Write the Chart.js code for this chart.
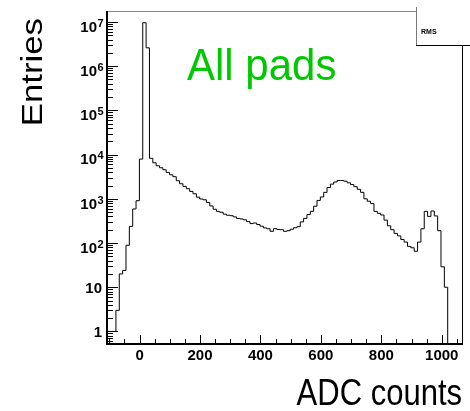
<!DOCTYPE html>
<html>
<head>
<meta charset="utf-8">
<script src="https://cdn.jsdelivr.net/npm/chart.js@4.4.1/dist/chart.umd.min.js"></script>
<style>
  html, body { margin: 0; padding: 0; background: #fff; }
  canvas { display: block; }
</style>
</head>
<body>
<canvas id="adcChart" width="470" height="411"></canvas>
<script>
// ADC spectrum, all pads (ROOT style histogram, log y)
const binStart = -111.5;   // left edge of first bin, ADC counts
const binWidth = 11.09;
const counts = [
  1, 1, 1, 3, 20, 24, 89, 238, 589, 906,
  7900, 9.6e6, 2.6e6, 8250, 6530, 5590, 5040, 4540, 3950, 3500,
  3160, 2560, 2190, 1910, 1690, 1470, 1300, 1090, 990, 950,
  830, 690, 580, 520, 495, 450, 425, 415, 390, 360,
  350, 335, 305, 275, 284, 262, 240, 220, 210, 184,
  211, 203, 200, 184, 190, 205, 222, 234, 300, 360,
  440, 520, 680, 920, 1100, 1400, 1800, 2150, 2400, 2600,
  2600, 2500, 2300, 2100, 1880, 1640, 1400, 1000, 880, 780,
  520, 470, 430, 330, 245, 200, 165, 145, 120, 105,
  84, 78, 65, 105, 210, 520, 400, 530, 410, 190,
  29, 10
];
const xMajorTicks = [0, 200, 400, 600, 800, 1000];
const yDecades = [0, 1, 2, 3, 4, 5, 6, 7];

const xMin = -107.8, xMax = 1067;
const yMin = 0.52, yMax = 1.77e7;

// bin left edges -> points, histogram drawn with step lines
const points = counts.map((c, i) => ({ x: binStart + i * binWidth, y: c }));
points.push({ x: binStart + counts.length * binWidth, y: 0.01 });

const FONT = '"Liberation Sans", Arial, Helvetica, sans-serif';

const rootFrame = {
  id: 'rootFrame',
  afterDatasetsDraw(chart) {
    const ctx = chart.ctx;
    const a = chart.chartArea;
    const xs = chart.scales.x, ys = chart.scales.y;
    ctx.save();

    // frame
    ctx.strokeStyle = '#888';
    ctx.lineWidth = 1;
    ctx.beginPath();
    ctx.moveTo(a.left, a.top + 0.5); ctx.lineTo(a.right, a.top + 0.5);
    ctx.stroke();
    ctx.strokeStyle = '#000';
    ctx.beginPath();
    ctx.moveTo(a.right + 0.5, a.top); ctx.lineTo(a.right + 0.5, a.bottom);
    ctx.stroke();
    ctx.lineWidth = 2;
    ctx.beginPath();
    ctx.moveTo(a.left, a.top); ctx.lineTo(a.left, a.bottom + 1);
    ctx.moveTo(a.left - 1, a.bottom); ctx.lineTo(a.right + 1, a.bottom);
    ctx.stroke();

    // y ticks (inside)
    ctx.lineWidth = 1;
    ctx.beginPath();
    for (let d = -1; d <= 7; d++) {
      for (let m = 1; m <= 9; m++) {
        const v = m * Math.pow(10, d);
        if (v < yMin || v > yMax) continue;
        const y = Math.round(ys.getPixelForValue(v)) + 0.5;
        const len = m === 1 ? 11 : 6;
        ctx.moveTo(a.left, y); ctx.lineTo(a.left + len, y);
      }
    }
    // x ticks (inside)
    for (let v = -100; v <= 1050; v += 50) {
      const x = Math.round(xs.getPixelForValue(v)) + 0.5;
      const len = xMajorTicks.includes(v) ? 9 : 5;
      ctx.moveTo(x, a.bottom); ctx.lineTo(x, a.bottom - len);
    }
    ctx.stroke();

    // tick labels
    ctx.fillStyle = '#000';
    ctx.font = 'bold 15px ' + FONT;
    ctx.textAlign = 'center';
    ctx.textBaseline = 'alphabetic';
    xMajorTicks.forEach(v => {
      ctx.fillText(String(v), xs.getPixelForValue(v), 360);
    });
    yDecades.forEach(d => {
      const y = ys.getPixelForValue(Math.pow(10, d));
      if (d < 2) {
        ctx.font = 'bold 15px ' + FONT;
        ctx.textAlign = 'right';
        ctx.fillText(d === 0 ? '1' : '10', 102, y + 5.6);
      } else {
        ctx.font = 'bold 15px ' + FONT;
        ctx.textAlign = 'right';
        ctx.fillText('10', 97, y + 9.7);
        ctx.font = 'bold 11px ' + FONT;
        ctx.textAlign = 'left';
        ctx.fillText(String(d), 97.5, y + 4.7);
      }
    });

    // axis titles
    ctx.font = '29px ' + FONT;
    ctx.save();
    ctx.translate(42, 18);
    ctx.rotate(-Math.PI / 2);
    ctx.scale(1.2, 1);
    ctx.textAlign = 'right';
    ctx.fillText('Entries', 0, 0);
    ctx.restore();

    ctx.font = '31px ' + FONT;
    ctx.save();
    ctx.translate(462, 405);
    ctx.scale(1, 1.2);
    ctx.textAlign = 'right';
    ctx.fillText('ADC counts', 0, 0);
    ctx.restore();

    // label
    ctx.font = '42px ' + FONT;
    ctx.fillStyle = '#00c800';
    ctx.save();
    ctx.translate(187, 80);
    ctx.scale(1, 1.05);
    ctx.textAlign = 'left';
    ctx.fillText('All pads', 0, 0);
    ctx.restore();

    // stats box (cut at the right edge)
    ctx.fillStyle = '#fff';
    ctx.fillRect(416, 0, 60, 45);
    ctx.strokeStyle = '#777';
    ctx.lineWidth = 1;
    ctx.beginPath();
    ctx.moveTo(416.5, 7); ctx.lineTo(416.5, 45);
    ctx.stroke();
    ctx.strokeStyle = '#000';
    ctx.beginPath();
    ctx.moveTo(416, 45.5); ctx.lineTo(470, 45.5);
    ctx.stroke();
    ctx.fillStyle = '#000';
    ctx.font = 'bold 7px ' + FONT;
    ctx.textAlign = 'left';
    ctx.fillText('RMS', 421, 34);

    ctx.restore();
  }
};

new Chart(document.getElementById('adcChart').getContext('2d'), {
  type: 'line',
  data: {
    datasets: [{
      label: 'All pads',
      data: points,
      stepped: true,
      borderColor: '#000',
      borderWidth: 1,
      pointRadius: 0,
      fill: false,
      tension: 0
    }]
  },
  options: {
    responsive: false,
    animation: false,
    devicePixelRatio: 1,
    layout: { padding: { left: 107, right: 8, top: 11, bottom: 67 } },
    plugins: {
      legend: { display: false },
      tooltip: { enabled: false }
    },
    scales: {
      x: { type: 'linear', min: xMin, max: xMax, display: false },
      y: { type: 'logarithmic', min: yMin, max: yMax, display: false }
    }
  },
  plugins: [rootFrame]
});
</script>
</body>
</html>
